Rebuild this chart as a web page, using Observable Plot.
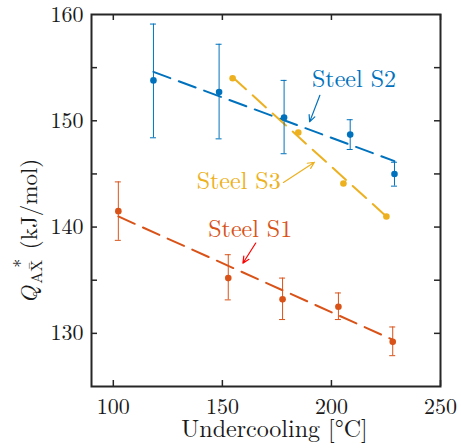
<!DOCTYPE html>
<html><head><meta charset="utf-8">
<script src="https://cdn.jsdelivr.net/npm/d3@7"></script>
<script src="https://cdn.jsdelivr.net/npm/@observablehq/plot@0.6"></script>
<style>body{margin:0;background:#fff}</style>
</head><body><div id="chart"></div>
<script>
// ticks
const xTickValues = [100, 150, 200, 250];
const xTickLabels = [100, 150, 200, 250];
const yTickValues = [130, 135, 140, 145, 150, 155];
const yTickLabels = [130, 140, 150, 160];

// Steel S1
const s1X  = [102.3, 152.7, 177.6, 203.2, 228.1];
const s1Y  = [141.5, 135.2, 133.2, 132.5, 129.2];
const s1Lo = [138.75, 133.15, 131.3, 131.3, 127.9];
const s1Hi = [144.25, 137.4, 135.2, 133.8, 130.6];
const s1FitX = [102.3, 228.1];
const s1FitY = [141.0, 129.4];

// Steel S2
const s2X  = [118.4, 148.5, 178.3, 208.6, 228.9];
const s2Y  = [153.8, 152.7, 150.3, 148.7, 145.0];
const s2Lo = [148.4, 148.3, 146.9, 147.3, 143.85];
const s2Hi = [159.1, 157.2, 153.8, 150.1, 146.1];
const s2FitX = [118.4, 228.9];
const s2FitY = [154.6, 146.2];

// Steel S3
const s3X = [154.7, 184.8, 205.5, 225.2];
const s3Y = [154.0, 148.9, 144.1, 141.0];
const s3FitX = [154.7, 225.2];
const s3FitY = [154.1, 141.0];

// annotations
const labelNames = ["Steel S1", "Steel S2", "Steel S3"];
const labelX = [143.5, 191.1, 138.2];
const labelY = [139.1, 153.15, 143.6];
const arrowX1 = [165.3, 194.7, 178.0];
const arrowY1 = [138.5, 152.4, 144.2];
const arrowX2 = [159.4, 190.0, 192.2];
const arrowY2 = [136.6, 149.9, 146.1];

const seriesColor = {S1: "#D95319", S2: "#0072BD", S3: "#EDB120"};
const labelColors = ["#D95319", "#0072BD", "#EDB120"];
const arrowColors = ["#FF0000", "#0072BD", "#EDB120"];

const xLabel = "Undercooling [°C]";
const yLabel = "YLABEL";

function pts(name, X, Y, Lo, Hi) {
  return X.map((x, i) => ({s: name, x, y: Y[i], lo: Lo ? Lo[i] : null, hi: Hi ? Hi[i] : null}));
}
const points = [
  ...pts("S1", s1X, s1Y, s1Lo, s1Hi),
  ...pts("S2", s2X, s2Y, s2Lo, s2Hi),
  ...pts("S3", s3X, s3Y)
];
const errPts = points.filter(d => d.lo != null);
const fits = [
  ...s1FitX.map((x, i) => ({s: "S1", x, y: s1FitY[i]})),
  ...s2FitX.map((x, i) => ({s: "S2", x, y: s2FitY[i]})),
  ...s3FitX.map((x, i) => ({s: "S3", x, y: s3FitY[i]}))
];
const labels = labelNames.map((t, i) => ({t, x: labelX[i], y: labelY[i], c: labelColors[i]}));
const arrows = arrowX1.map((x1, i) => ({x1, y1: arrowY1[i], x2: arrowX2[i], y2: arrowY2[i], c: arrowColors[i]}));

const ink = "#262626";
const FONT = "Latin Modern Roman";
const chart = Plot.plot({
  width: 461, height: 448,
  marginLeft: 91, marginRight: 21, marginTop: 14, marginBottom: 62,
  style: {fontSize: "22px", color: ink, background: "#fff", overflow: "visible"},
  x: {domain: [90, 250]},
  y: {domain: [125, 160]},
  marks: [
    Plot.line(fits, {x: "x", y: "y", z: "s", stroke: d => seriesColor[d.s], strokeWidth: 2, strokeDasharray: "18,9"}),
    Plot.ruleX(errPts, {x: "x", y1: "lo", y2: "hi", stroke: d => seriesColor[d.s], strokeWidth: 1}),
    Plot.ruleY(errPts, {y: "lo", x1: "x", x2: "x", insetLeft: -3, insetRight: -3, stroke: d => seriesColor[d.s], strokeWidth: 1}),
    Plot.ruleY(errPts, {y: "hi", x1: "x", x2: "x", insetLeft: -3, insetRight: -3, stroke: d => seriesColor[d.s], strokeWidth: 1}),
    Plot.dot(points, {x: "x", y: "y", r: 3.3, fill: d => seriesColor[d.s], stroke: "none"}),
    Plot.text(labels, {x: "x", y: "y", text: "t", fill: "c", textAnchor: "start", lineAnchor: "bottom", fontSize: 24}),
    Plot.arrow(arrows, {x1: "x1", y1: "y1", x2: "x2", y2: "y2", stroke: "c", strokeWidth: 1.2, headLength: 9, headAngle: 50}),
    Plot.frame({stroke: ink, strokeWidth: 2}),
    Plot.tickX(xTickValues, {x: d => d, insetTop: 366, stroke: ink, strokeWidth: 1.5}),
    Plot.tickX(xTickValues, {x: d => d, insetBottom: 366, stroke: ink, strokeWidth: 1.5}),
    Plot.tickY(yTickValues, {y: d => d, insetRight: 343, stroke: ink, strokeWidth: 1.5}),
    Plot.tickY(yTickValues, {y: d => d, insetLeft: 343, stroke: ink, strokeWidth: 1.5}),
    Plot.axisX({ticks: xTickLabels, tickSize: 0, tickPadding: 11.5, label: null, fill: "#1a1a1a"}),
    Plot.axisY({ticks: yTickLabels, tickSize: 0, tickPadding: 8, label: null, fill: "#1a1a1a"}),
    Plot.text([xLabel], {frameAnchor: "bottom", textAnchor: "middle", lineAnchor: "bottom", dx: 8.5, dy: 50, fontSize: 24, fill: "#1a1a1a"}),
    Plot.text([yLabel], {frameAnchor: "left", rotate: -90, textAnchor: "start", lineAnchor: "bottom", dx: -55, dy: 103, fontSize: 23, fill: "#1a1a1a"})
  ]
});
document.getElementById("chart").appendChild(chart);

const svg = d3.select(chart);
svg.attr("font-family", FONT).style("font-family", FONT);
svg.selectAll("g").attr("font-family", FONT);
svg.selectAll("text").attr("font-family", FONT).style("font-family", FONT).each(function() {
  const el = d3.select(this);
  if (el.text() === yLabel) {
    el.text(null);
    el.append("tspan").attr("font-style", "italic").text("Q");
    el.append("tspan").attr("font-size", "16px").attr("dy", 5).attr("dx", 2).text("AX");
    el.append("tspan").attr("font-size", "16px").attr("dy", -3).attr("dx", -10).text("\u00AF");
    el.append("tspan").attr("font-size", "18px").attr("dy", -12).attr("dx", -6).text("*");
    el.append("tspan").attr("dy", 10).attr("dx", 2).text(" (kJ/mol)");
  }
});
svg.selectAll("tspan").style("font-family", FONT);
</script>
</body></html>
